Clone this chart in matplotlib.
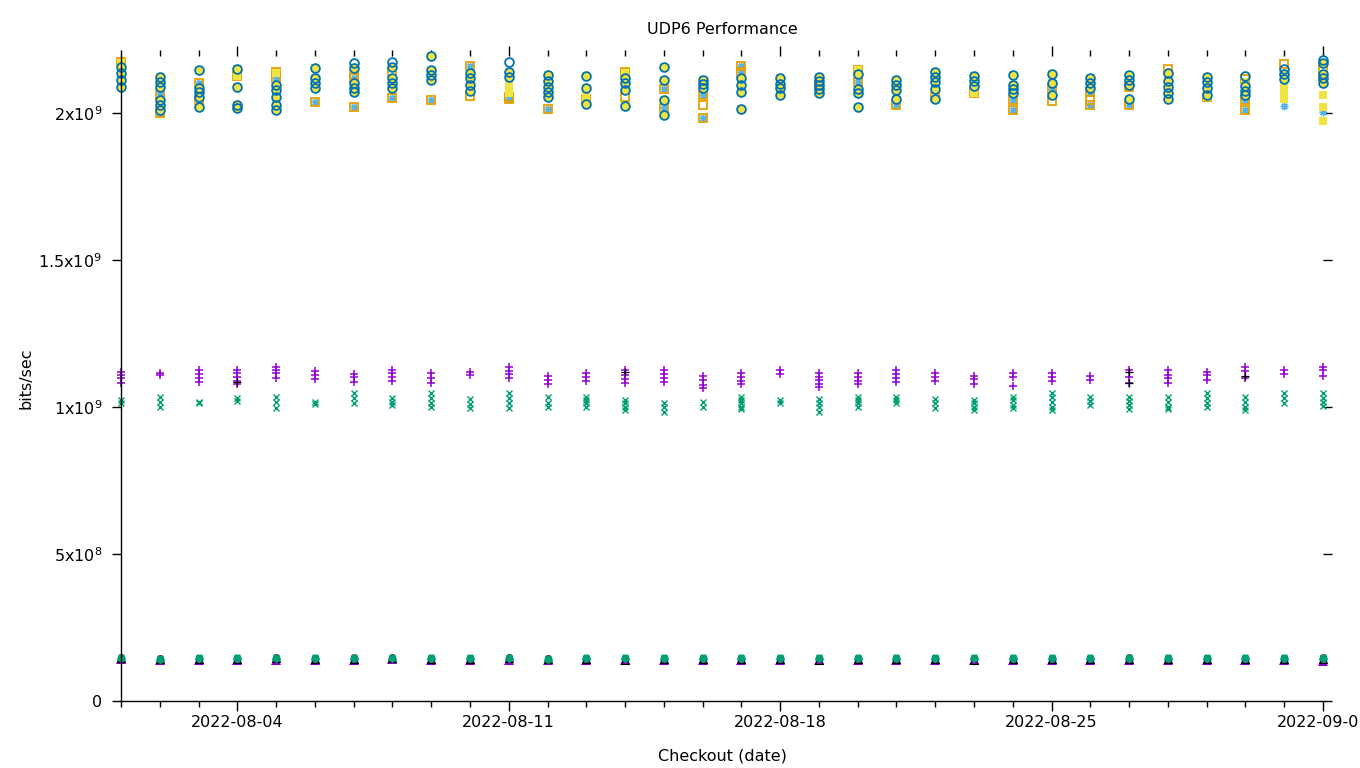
import matplotlib
matplotlib.use('Agg')
import matplotlib.pyplot as plt
import matplotlib.dates as mdates
import pandas as pd

# ---------------- data (values in units of 1e9 bits/sec) ----------------
dates = pd.date_range('2022-08-01', periods=32, freq='D')

# yellow filled squares (under blue circles) / blue empty circles
sq_circ = [
    [2.157, 2.136, 2.112, 2.089], [2.121, 2.107, 2.090, 2.044, 2.027, 2.010],
    [2.146, 2.084, 2.073, 2.056, 2.021], [2.149, 2.090, 2.027, 2.016],
    [2.095, 2.078, 2.056, 2.027, 2.010], [2.152, 2.118, 2.101, 2.086],
    [2.154, 2.101, 2.086, 2.070], [2.157, 2.120, 2.103, 2.086],
    [2.194, 2.146, 2.129, 2.112], [2.135, 2.118, 2.097, 2.075],
    [2.138, 2.121], [2.129, 2.109, 2.090, 2.073, 2.056],
    [2.127, 2.086, 2.031], [2.120, 2.101, 2.078, 2.025],
    [2.155, 2.112, 2.044, 1.995], [2.112, 2.100, 2.086],
    [2.118, 2.095, 2.070, 2.014], [2.118, 2.100, 2.086, 2.063],
    [2.124, 2.109, 2.095, 2.082, 2.067], [2.132, 2.083, 2.069, 2.021],
    [2.112, 2.095, 2.078, 2.049], [2.141, 2.121, 2.107, 2.082, 2.049],
    [2.126, 2.109, 2.093], [2.129, 2.095, 2.082, 2.067],
    [2.132, 2.103, 2.061], [2.118, 2.101, 2.086],
    [2.129, 2.112, 2.097, 2.048], [2.135, 2.109, 2.090, 2.069, 2.049],
    [2.124, 2.107, 2.086, 2.063], [2.093, 2.076, 2.061],
    [2.132, 2.115], [2.169, 2.132, 2.118, 2.103],
]
# yellow filled squares without a circle on top
yellow_extra = [
    [2.170], [], [], [2.127], [2.135], [], [], [],
    [], [], [2.107, 2.097, 2.087, 2.077, 2.067], [],
    [2.063, 2.056], [2.136], [], [],
    [], [], [], [2.146], [], [], [2.067], [],
    [], [], [], [], [2.055], [2.107],
    [2.100, 2.089, 2.078, 2.067, 2.056, 2.047], [2.061, 2.021, 1.973],
]
# blue empty circles without yellow fill
blue_extra = [
    [], [], [], [], [], [], [2.169], [2.174], [], [], [2.172], [],
    [], [], [], [], [], [], [], [], [], [], [], [], [], [], [],
    [], [], [2.127], [2.149], [2.182],
]
# orange empty squares
orange_sq = [
    [2.174], [2.064, 2.001], [2.101, 2.046], [2.127], [2.141, 2.118],
    [2.036], [2.129, 2.118, 2.019], [2.141, 2.052], [2.046], [2.161, 2.059],
    [2.056, 2.049], [2.014], [2.049], [2.141, 2.056], [2.083, 2.016],
    [2.061, 2.029, 1.982], [2.161, 2.141], [], [2.097], [2.146, 2.107],
    [2.027], [2.055], [2.067], [2.046, 2.012], [2.083, 2.041],
    [2.073, 2.044, 2.027], [2.090, 2.027], [2.150], [2.055],
    [2.115, 2.044, 2.010], [2.167], [2.150, 2.124],
]
# light blue asterisks
lblue_star = [
    [2.174], [2.064, 2.001], [2.101, 2.046], [], [2.118],
    [2.036], [2.118, 2.019], [2.052], [2.046], [2.161],
    [2.049], [2.014], [2.049], [2.141], [2.083, 2.016],
    [2.061, 1.982], [2.161, 2.141], [], [], [2.146, 2.107],
    [2.027], [], [2.067], [2.046, 2.012], [2.083],
    [2.073, 2.027], [2.027], [], [],
    [2.044, 2.010], [2.024], [2.124, 2.004],
]
# purple "+"
purple_plus = [
    [1.120, 1.109, 1.098, 1.081], [1.117, 1.109], [1.126, 1.112, 1.098, 1.086],
    [1.126, 1.115, 1.101, 1.089, 1.078], [1.137, 1.126, 1.115, 1.098],
    [1.123, 1.109, 1.094], [1.112, 1.101, 1.086], [1.126, 1.115, 1.101, 1.089],
    [1.115, 1.098, 1.081], [1.120, 1.109], [1.137, 1.123, 1.112, 1.098],
    [1.105, 1.092, 1.078], [1.115, 1.103, 1.089], [1.126, 1.109, 1.094, 1.081],
    [1.126, 1.112, 1.098, 1.086], [1.105, 1.092, 1.075, 1.066],
    [1.115, 1.103, 1.089, 1.078], [1.126, 1.112],
    [1.115, 1.103, 1.092, 1.078, 1.067], [1.115, 1.101, 1.089, 1.078],
    [1.126, 1.112, 1.098, 1.086], [1.115, 1.101, 1.089], [1.105, 1.094, 1.078],
    [1.115, 1.103, 1.071], [1.115, 1.101, 1.089], [1.105, 1.092],
    [1.126, 1.101, 1.081], [1.126, 1.109, 1.098, 1.081], [1.120, 1.109, 1.092],
    [1.137, 1.123, 1.098], [1.126, 1.112], [1.137, 1.126, 1.105],
]
# black "+"
black_plus = [
    [], [], [], [1.085], [], [], [], [], [], [], [], [], [], [1.120], [], [],
    [], [], [], [], [], [], [], [], [], [], [1.120, 1.080], [], [],
    [1.105], [], [],
]
# green "x"
green_x = [
    [1.024, 1.014], [1.035, 1.018, 1.001], [1.018, 1.012], [1.030, 1.021],
    [1.035, 1.018, 0.996], [1.018, 1.010], [1.047, 1.030, 1.013],
    [1.030, 1.018, 1.007], [1.047, 1.030, 1.013, 1.001], [1.026, 1.010, 0.996],
    [1.047, 1.030, 1.015, 0.996], [1.035, 1.013, 1.001],
    [1.035, 1.024, 1.013, 0.999], [1.024, 1.013, 1.001, 0.990],
    [1.013, 0.999, 0.984], [1.018, 1.001],
    [1.035, 1.024, 1.013, 1.001, 0.993], [1.024, 1.013],
    [1.026, 1.015, 0.999, 0.984], [1.035, 1.024, 1.013, 1.001],
    [1.035, 1.024, 1.015], [1.026, 1.013, 0.996], [1.024, 1.013, 1.001, 0.990],
    [1.035, 1.024, 1.007, 0.996], [1.047, 1.033, 1.018, 1.001, 0.990],
    [1.035, 1.021, 1.007], [1.035, 1.021, 1.007, 0.993],
    [1.035, 1.018, 1.001, 0.993], [1.047, 1.030, 1.015, 1.001],
    [1.035, 1.018, 1.001, 0.990], [1.047, 1.030, 1.015], [1.047, 1.030, 1.018, 1.003],
]
# low group (~1.4e8)
red_low = [0.150, 0.147, 0.146, 0.147, 0.149, 0.146, 0.148, 0.149, 0.147, 0.147,
           0.149, 0.145, 0.146, 0.147, 0.146, 0.146, 0.147, 0.146, 0.146, 0.147,
           0.147, 0.146, 0.147, 0.146, 0.146, 0.147, 0.148, 0.147, 0.147, 0.146,
           0.147, 0.148]
black_low = [0.146, 0.142, 0.143, 0.142, 0.145, 0.143, 0.144, 0.145, 0.144, 0.144,
             0.145, 0.142, 0.143, 0.141, 0.142, 0.142, 0.143, 0.143, 0.141, 0.143,
             0.142, 0.142, 0.141, 0.142, 0.143, 0.143, 0.144, 0.143, 0.143, 0.142,
             0.143, 0.144]
purple_low = [0.144, 0.139, 0.140, 0.139, 0.141, 0.140, 0.141, 0.142, 0.141, 0.141,
              0.140, 0.139, 0.140, 0.140, 0.140, 0.140, 0.141, 0.140, 0.140, 0.141,
              0.140, 0.140, 0.140, 0.139, 0.140, 0.140, 0.141, 0.140, 0.140, 0.140,
              0.139, 0.137]
green_low = [0.147, 0.144, 0.145, 0.145, 0.146, 0.145, 0.146, 0.147, 0.146, 0.146,
             0.147, 0.144, 0.145, 0.145, 0.145, 0.145, 0.146, 0.145, 0.145, 0.146,
             0.146, 0.145, 0.145, 0.145, 0.145, 0.146, 0.146, 0.145, 0.145, 0.145,
             0.145, 0.146]

y_ticks = [0, 0.5e9, 1.0e9, 1.5e9, 2.0e9]
y_ticklabels = ['0', '5x10$^{8}$', '1x10$^{9}$', '1.5x10$^{9}$', '2x10$^{9}$']
x_major = ['2022-08-04', '2022-08-11', '2022-08-18', '2022-08-25', '2022-09-01']

# ---------------- plot ----------------
FS = 11.5
fig = plt.figure(figsize=(13.6, 7.68), dpi=100)
W, H = 1360, 768
ax = fig.add_axes([121 / W, (H - 701) / H, (1323 - 121) / W, (701 - 56) / H])


def flat(vals):
    xs, ys = [], []
    for d, lst in zip(dates, vals):
        for v in lst:
            xs.append(d)
            ys.append(v * 1e9)
    return xs, ys


def pts(vals, **kw):
    xs, ys = flat(vals)
    ax.plot(xs, ys, linestyle='none', clip_on=False, **kw)


def single(vals):
    return [[v] for v in vals]


# colors (gnuplot default palette)
C_PURPLE = '#9400d3'
C_GREEN = '#009e73'
C_LBLUE = '#56b4e9'
C_ORANGE = '#e69f00'
C_YELLOW = '#f0e442'
C_BLUE = '#0072b2'
C_RED = '#e51e10'

pts(purple_plus, marker='+', color=C_PURPLE, markersize=6, markeredgewidth=1.1)
pts(black_plus, marker='+', color='black', markersize=6, markeredgewidth=0.9)
pts(green_x, marker='x', color=C_GREEN, markersize=5, markeredgewidth=1.0)

pts(lblue_star, marker=(8, 2, 0), color=C_LBLUE, markersize=5.5, markeredgewidth=1.0)
pts(orange_sq, marker='s', markerfacecolor='none', markeredgecolor=C_ORANGE,
    markersize=6.2, markeredgewidth=1.3)
pts([a + b for a, b in zip(sq_circ, yellow_extra)], marker='s', color=C_YELLOW,
    markersize=5.8, markeredgewidth=0)
pts([a + b for a, b in zip(sq_circ, blue_extra)], marker='o', markerfacecolor='none',
    markeredgecolor=C_BLUE, markersize=6.3, markeredgewidth=1.3)

pts(single(red_low), marker='o', color=C_RED, markersize=5, markeredgewidth=0)
pts(single(purple_low), marker='^', color=C_PURPLE, markersize=7, markeredgewidth=0)
pts(single(black_low), marker='^', markerfacecolor='none', markeredgecolor='black',
    markersize=6.0, markeredgewidth=0.8)
pts(single(green_low), marker=(5, 0, 180), color=C_GREEN, markersize=7, markeredgewidth=0)

ax.set_xlim(mdates.date2num(dates[0]), mdates.date2num(dates[-1]))
ax.set_ylim(0, 2.194e9)

ax.set_yticks(y_ticks)
ax.set_yticklabels(y_ticklabels)
ax.xaxis.set_major_locator(matplotlib.ticker.FixedLocator(
    [mdates.date2num(pd.Timestamp(d)) for d in x_major]))
ax.xaxis.set_major_formatter(mdates.DateFormatter('%Y-%m-%d'))
ax.xaxis.set_minor_locator(matplotlib.ticker.FixedLocator(mdates.date2num(dates)))

for s in ['top', 'right']:
    ax.spines[s].set_visible(False)
for s in ['left', 'bottom']:
    ax.spines[s].set_linewidth(1.0)
    ax.spines[s].set_color('black')

ax.tick_params(axis='both', which='both', direction='out', top=True, right=True,
               labeltop=False, labelright=False, width=1.0, labelsize=FS, colors='black')
ax.tick_params(axis='x', which='major', length=7, pad=3)
ax.tick_params(axis='x', which='minor', length=4)
ax.tick_params(axis='y', which='major', length=6.5, pad=7)

fig.text(722 / W, 1 - 29 / H, 'UDP6 Performance', ha='center', va='center', fontsize=FS)
fig.text(722 / W, 1 - 756 / H, 'Checkout (date)', ha='center', va='center', fontsize=FS)
fig.text(26 / W, 1 - 378 / H, 'bits/sec', ha='center', va='center', fontsize=FS,
         rotation=90)

fig.savefig('out.png', dpi=100)
